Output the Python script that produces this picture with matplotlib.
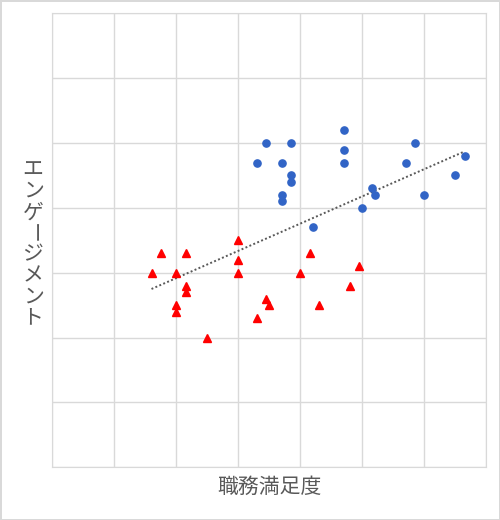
import numpy as np
import matplotlib
matplotlib.use("Agg")
import matplotlib.pyplot as plt

plt.rcParams['font.family'] = ['Noto Sans CJK JP', 'DejaVu Sans']

# 職務満足度 / エンゲージメント  (group A: blue circles, group B: red triangles)
blue_x = [3.45, 3.85, 3.30, 3.70, 3.85, 3.85, 3.70, 3.70, 4.70, 4.70,
          4.70, 4.20, 5.00, 5.15, 5.20, 5.70, 5.85, 6.00, 6.50, 6.65]
blue_y = [5.0, 5.0, 4.7, 4.7, 4.5, 4.4, 4.2, 4.1, 5.2, 4.9,
          4.7, 3.7, 4.0, 4.3, 4.2, 4.7, 5.0, 4.2, 4.5, 4.8]
red_x = [1.60, 1.75, 2.00, 2.15, 2.15, 2.15, 2.00, 2.00, 2.50, 3.00,
         3.00, 3.00, 3.30, 3.45, 3.50, 4.00, 4.15, 4.30, 4.80, 4.95]
red_y = [3.0, 3.3, 3.0, 3.3, 2.8, 2.7, 2.5, 2.4, 2.0, 3.5,
         3.2, 3.0, 2.3, 2.6, 2.5, 3.0, 3.3, 2.5, 2.8, 3.1]

x_label = "職務満足度"
y_label = "エンゲージメント"

fig = plt.figure(figsize=(5, 5.2), dpi=100)
fig.patch.set_edgecolor("#d9d9d9")
fig.patch.set_linewidth(2)
ax = fig.add_axes([0.1046, 0.1013, 0.868, 0.873])

ax.set_xlim(0, 7)
ax.set_ylim(0, 7)
ax.set_xticks(range(8))
ax.set_yticks(range(8))
ax.tick_params(length=0, labelbottom=False, labelleft=False)
ax.grid(True, color="#d9d9d9", lw=1)
ax.set_axisbelow(True)
for s in ax.spines.values():
    s.set_color("#d9d9d9")

ax.plot(blue_x, blue_y, 'o', color="#3164c6", markersize=5.2, ls='none', zorder=3)
ax.plot(red_x, red_y, '^', color="#ff0000", markersize=6.2, ls='none', zorder=3)

# linear trend over all points
all_x = np.array(blue_x + red_x)
all_y = np.array(blue_y + red_y)
k, b = np.polyfit(all_x, all_y, 1)
xs = np.array([all_x.min(), all_x.max()])
ax.plot(xs, k * xs + b, ls=(0, (1, 1.2)), color="#595959", lw=1.4, zorder=2)

fig.text(0.538, 0.0635, x_label, fontsize=15, color="#595959", ha='center', va='center')

# vertical (tategaki) y label, one character at a time
top = 1 - 170 / 520
pitch = 21.1 / 520
for i, ch in enumerate(y_label):
    rot = -90 if ch == "ー" else 0
    fig.text(0.066, top - i * pitch, ch, fontsize=15, color="#595959",
             ha='center', va='center', rotation=rot)

fig.savefig("out.png", dpi=100)
